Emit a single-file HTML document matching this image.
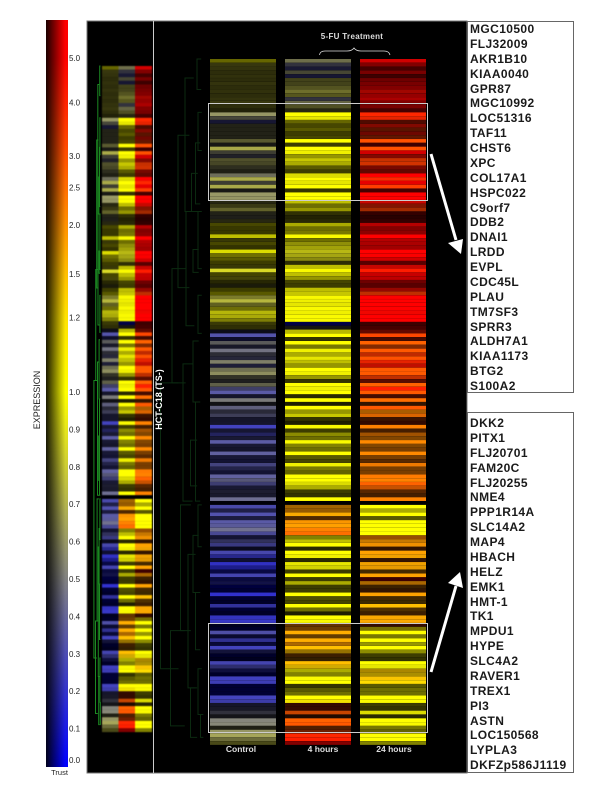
<!DOCTYPE html>
<html lang="en">
<head>
<meta charset="utf-8">
<title>HCT-C18 5-FU expression heatmap</title>
<style>
html,body{margin:0;padding:0;background:#fff;}
#page{position:relative;width:600px;height:800px;overflow:hidden;background:#fff;font-family:"Liberation Sans",sans-serif;}
#chart{position:absolute;left:0;top:0;}
.gene-box{position:absolute;box-sizing:border-box;left:467px;width:107px;background:#fff;border:1px solid #666;}
.gene{position:absolute;left:2px;font-weight:bold;font-size:12px;line-height:14px;letter-spacing:.4px;color:#1a1a1a;white-space:nowrap;}
</style>
</head>
<body>
<div id="page">
<svg id="chart" width="600" height="800" viewBox="0 0 600 800" xmlns="http://www.w3.org/2000/svg">
  <defs>
    <linearGradient id="legendColors" x1="0" y1="20" x2="0" y2="767" gradientUnits="userSpaceOnUse"></linearGradient>
    <linearGradient id="legendTrust" x1="0" y1="0" x2="1" y2="0">
      <stop offset="0" stop-color="#000" stop-opacity=".9"/>
      <stop offset=".88" stop-color="#000" stop-opacity="0"/>
    </linearGradient>
    <filter id="softMain" color-interpolation-filters="sRGB"><feGaussianBlur stdDeviation="0.25 0.35"/></filter>
    <filter id="softSide" color-interpolation-filters="sRGB"><feGaussianBlur stdDeviation="0.4 0.55"/></filter>
  </defs>
  <rect x="87" y="21" width="380" height="752" fill="#000" stroke="#777" stroke-width="1"/>
  <line x1="153.5" y1="21" x2="153.5" y2="773" stroke="#ccc" stroke-width="1"/>
  <rect x="46" y="20" width="22" height="747" fill="url(#legendColors)"/>
  <rect x="46" y="20" width="22" height="747" fill="url(#legendTrust)"/>
  <g id="legendTicks"></g>
  <text transform="translate(40,400) rotate(-90)" text-anchor="middle" font-size="9" fill="#222" font-family="Liberation Sans, sans-serif">EXPRESSION</text>
  <text x="59.5" y="775" text-anchor="middle" font-size="7.5" fill="#222" font-family="Liberation Sans, sans-serif">Trust</text>
  <g id="sideTree"></g>
  <g id="mainTree"></g>
  <g id="sideMap" filter="url(#softSide)"></g>
  <g id="mainMap" filter="url(#softMain)"></g>
  <text transform="translate(162,399.500) rotate(-90)" text-anchor="middle" font-size="9" font-weight="bold" fill="#fff" font-family="Liberation Sans, sans-serif">HCT-C18  (TS-)</text>
  <text x="352" y="39" text-anchor="middle" font-size="8" font-weight="bold" letter-spacing=".3" fill="#ddd" font-family="Liberation Sans, sans-serif">5-FU Treatment</text>
  <path d="M319.500 55 Q320 51 325 51 L347 51 Q352 51 354 48 Q356 51 361 51 L384 51 Q389 51 390 55" fill="none" stroke="#ddd" stroke-width=".8"/>
  <text x="241" y="752" text-anchor="middle" font-size="8.5" font-weight="bold" fill="#ddd" font-family="Liberation Sans, sans-serif">Control</text>
  <text x="323" y="752" text-anchor="middle" font-size="8.5" font-weight="bold" fill="#ddd" font-family="Liberation Sans, sans-serif">4 hours</text>
  <text x="394" y="752" text-anchor="middle" font-size="8.5" font-weight="bold" fill="#ddd" font-family="Liberation Sans, sans-serif">24 hours</text>
  <rect x="208.500" y="103.500" width="219" height="97" fill="none" stroke="#ccc" stroke-width="1"/>
  <rect x="208.500" y="623.500" width="219" height="109" fill="none" stroke="#ccc" stroke-width="1"/>
  <g>
    <line x1="431" y1="154" x2="456" y2="240" stroke="#fff" stroke-width="3"/>
    <polygon points="461,254 448,243 463,239" fill="#fff"/>
  </g>
  <g>
    <line x1="431" y1="672" x2="456" y2="586" stroke="#fff" stroke-width="3"/>
    <polygon points="460,572 448,583 463,588" fill="#fff"/>
  </g>
</svg>

<div class="gene-box" style="top:21px;height:372px;">
  <div class="gene" style="top:0px">MGC10500</div>
  <div class="gene" style="top:14.9px">FLJ32009</div>
  <div class="gene" style="top:29.8px">AKR1B10</div>
  <div class="gene" style="top:44.6px">KIAA0040</div>
  <div class="gene" style="top:59.5px">GPR87</div>
  <div class="gene" style="top:74.4px">MGC10992</div>
  <div class="gene" style="top:89.3px">LOC51316</div>
  <div class="gene" style="top:104.1px">TAF11</div>
  <div class="gene" style="top:119px">CHST6</div>
  <div class="gene" style="top:133.9px">XPC</div>
  <div class="gene" style="top:148.8px">COL17A1</div>
  <div class="gene" style="top:163.6px">HSPC022</div>
  <div class="gene" style="top:178.5px">C9orf7</div>
  <div class="gene" style="top:193.4px">DDB2</div>
  <div class="gene" style="top:208.3px">DNAI1</div>
  <div class="gene" style="top:223.1px">LRDD</div>
  <div class="gene" style="top:238px">EVPL</div>
  <div class="gene" style="top:252.9px">CDC45L</div>
  <div class="gene" style="top:267.8px">PLAU</div>
  <div class="gene" style="top:282.6px">TM7SF3</div>
  <div class="gene" style="top:297.5px">SPRR3</div>
  <div class="gene" style="top:312.4px">ALDH7A1</div>
  <div class="gene" style="top:327.3px">KIAA1173</div>
  <div class="gene" style="top:342.1px">BTG2</div>
  <div class="gene" style="top:357px">S100A2</div>
</div>

<div class="gene-box" style="top:412px;height:361px;">
  <div class="gene" style="top:3px">DKK2</div>
  <div class="gene" style="top:17.9px">PITX1</div>
  <div class="gene" style="top:32.8px">FLJ20701</div>
  <div class="gene" style="top:47.6px">FAM20C</div>
  <div class="gene" style="top:62.5px">FLJ20255</div>
  <div class="gene" style="top:77.4px">NME4</div>
  <div class="gene" style="top:92.3px">PPP1R14A</div>
  <div class="gene" style="top:107.1px">SLC14A2</div>
  <div class="gene" style="top:122px">MAP4</div>
  <div class="gene" style="top:136.9px">HBACH</div>
  <div class="gene" style="top:151.8px">HELZ</div>
  <div class="gene" style="top:166.6px">EMK1</div>
  <div class="gene" style="top:181.5px">HMT-1</div>
  <div class="gene" style="top:196.4px">TK1</div>
  <div class="gene" style="top:211.3px">MPDU1</div>
  <div class="gene" style="top:226.1px">HYPE</div>
  <div class="gene" style="top:241px">SLC4A2</div>
  <div class="gene" style="top:255.9px">RAVER1</div>
  <div class="gene" style="top:270.8px">TREX1</div>
  <div class="gene" style="top:285.6px">PI3</div>
  <div class="gene" style="top:300.5px">ASTN</div>
  <div class="gene" style="top:315.4px">LOC150568</div>
  <div class="gene" style="top:330.3px">LYPLA3</div>
  <div class="gene" style="top:345.1px">DKFZp586J1119</div>
</div>
</div>

<script>
var controlExpr = [
1,.8,.8,.8,.8,.8,.8,.8,.8,.8,
.8,.8,.8,.8,.6,.55,.3,.6,.6,.6,
.6,.65,.55,.7,.55,.45,.65,.65,.6,.6,
.55,.7,.55,.7,.55,.6,.6,.7,.75,.7,
.6,.55,.7,1,1,1,1,.9,1,1,
1,1,1,1,.9,.85,1,.9,.9,.75,
1,1,.75,.75,.75,.95,.95,.95,.95,.9,
.9,.35,.33,.25,.5,.38,.47,.45,.4,.55,
.35,.58,.6,.56,.5,.57,.38,.35,.33,.5,
.45,.43,.42,.41,.33,.33,.26,.3,.27,.33,
.36,.33,.33,.38,.31,.28,.35,.33,.28,.38,
.42,.35,.33,.38,.36,.43,0,.3,.3,.32,
.3,.35,.37,.44,.33,.28,.35,.31,.25,.29,
.22,.23,.2,.17,.12,.28,.14,.2,0,0,
.19,0,0,.24,0,0,.21,.22,0,0,
.32,.17,.25,.14,.26,.25,0,0,.28,.29,
.2,0,.25,.25,0,0,0,.26,.26,.33,
.38,.45,.45,.52,.53,.6,.6,.65,.65,.75];
var controlTrust = [
40,27,25,22,24,22,25,22,24,22,
25,27,22,16,98,50,28,22,22,22,
22,54,18,95,43,28,48,42,30,20,
78,95,43,95,18,100,98,22,30,55,
22,22,22,28,22,22,75,25,28,20,
86,43,35,24,25,100,27,30,17,14,
24,35,65,95,50,45,75,70,52,25,
20,15,100,22,70,25,95,38,38,90,
33,75,92,35,24,65,65,100,25,95,
15,85,38,58,25,25,100,28,50,30,
100,30,25,100,30,27,75,42,27,100,
80,68,30,30,27,100,4,95,40,100,
35,100,95,100,85,27,55,72,15,95,
70,25,95,65,30,95,28,35,24,20,
100,20,16,80,20,16,95,100,12,16,
95,22,75,25,100,30,16,12,95,60,
30,16,100,95,20,20,20,100,90,25,
25,42,17,100,100,20,98,100,65,38];
var hour4Expr = [
.6,.45,.33,.58,.3,.72,.72,.72,.72,.75,
.45,.6,.7,.7,1,1,1,1,1,1,
1,1,1,1,1,1,1,1,1,1,
1,1,1,1,1,1,1,1,1,1,
.95,.95,.9,1,1,1,1,1,.95,.95,
.9,.9,.9,.9,1,1,1,1,1,1,
1,1,1,1,1,1,1,1,1,0,
.55,1,1,1,1,1,1,1,1,1,
1,1,1,1,1,1,1,1,1,1,
1,1,1,1,1,1,1,1,1,1,
1,1,1,1,1,1,1,1,1,1,
1,1,1,1,1,1,0,1.84,1.9,1.67,
2.2,1.9,1.82,2.2,2.5,1,1,1,1,1,
1,1,1,1,1,1,1,1,1,1,
1,1,1,1,1,1,1,1,2.2,2,
1.67,1.9,1.67,1.9,1.5,1.5,2.2,1.9,1.5,1.35,
1,1,1,1,1,1,1,1,1.1,3.6,
3.6,2.85,3,2.7,2.85,2.7,3.2,3.9,4.1,5];
var hour4Trust = [
72,43,30,47,28,36,36,45,60,45,
43,65,45,22,100,90,40,28,35,24,
28,100,24,100,94,59,78,67,35,24,
86,100,90,100,20,100,100,75,43,59,
20,14,18,67,43,47,98,43,59,67,
80,72,60,20,75,98,75,59,27,24,
75,78,98,94,90,98,94,98,98,27,
14,72,100,20,100,47,94,67,90,75,
59,100,94,59,20,100,94,100,16,100,
12,100,59,78,20,12,98,24,55,43,
98,51,43,100,35,27,94,47,39,100,
100,86,67,24,20,100,0,63,59,98,
31,98,100,100,100,51,75,100,16,100,
94,16,90,82,24,100,24,67,24,24,
100,31,27,100,43,12,100,98,39,43,
100,39,100,67,100,59,24,20,100,82,
67,51,98,100,20,35,43,100,94,20,
20,78,12,100,100,31,43,100,100,51];
var hour24Expr = [
5,5,5,5,5,5,5,5,4.7,5,
5,5,5,5,3.9,3.9,4,4.5,3.5,4.5,
3.5,3,5,3,5,4.5,3.4,3.4,4.5,4.5,
5,3.9,5,3.4,5,5,5,4.7,3.9,3.3,
5,5,5,5,5,5,5,5,5,5,
5,5,5,5,4.8,4.2,5,5,5,5,
4.7,3.4,5,5,5,5,4.8,5,5,5,
5,4.3,3.2,4,2.7,3,2.85,3.5,3,3.9,
4.4,2.85,2.85,3.4,4,2.7,4.1,2.85,3.8,2.5,
2.7,2.85,2.1,2.4,3,3.7,2.2,2.5,2.2,2.1,
2.1,2.1,2.2,2.1,2.2,2.4,2.2,2.2,2.2,2.3,
2.2,2.7,2.6,2.5,2.5,2.2,0,1,1,1,
1,1,1,1,1,2.2,1.9,1.9,2.7,1.8,
1.7,2.7,1.7,1.7,1.9,1.8,5,1.9,2.1,2.7,
1.8,1.9,1.7,1.5,1.9,2.2,1.7,1.7,3.6,1.1,
1,1,1,1,1,1,1,1,1,1,
1.4,1.3,1.4,1.25,1,1,1,1,1,1,
1,1,1,1,1,1,1,1,1,1];
var hour24Trust = [
82,51,27,47,24,43,47,51,63,59,
67,51,47,27,100,90,31,51,35,43,
39,100,24,100,82,51,78,82,47,39,
100,100,90,100,27,100,100,78,51,63,
20,16,20,71,51,55,100,71,67,63,
100,98,82,35,78,100,78,75,43,35,
59,75,100,100,100,100,94,100,100,24,
27,39,100,27,100,51,100,75,100,90,
75,100,100,75,35,100,100,100,27,100,
20,100,67,86,24,20,100,27,63,51,
100,51,47,100,47,35,94,47,47,100,
100,100,78,35,27,100,0,100,67,100,
35,100,100,100,100,59,78,94,20,100,
94,20,94,90,27,100,24,67,24,20,
100,27,24,100,31,24,98,98,20,47,
100,47,100,59,100,55,24,20,100,90,
67,67,98,100,35,43,43,100,98,24,
20,86,16,100,98,47,39,100,100,51];
var legendTickValues = [5,4,3,2.5,2,1.5,1.2,1,.9,.8,.7,.6,.5,.4,.3,.2,.1,0];
var legendTickLabels = ["5.0","4.0","3.0","2.5","2.0","1.5","1.2","1.0","0.9","0.8","0.7","0.6","0.5","0.4","0.3","0.2","0.1","0.0"];
var mergeStart = [0,5,14,22,30,40,50,62,40,20,55,74,90,100,80,117,125,140,117,130,160,172,165,150,85];
var mergeEnd = [8,40,24,38,40,55,56,72,70,60,85,90,116,112,116,128,140,155,150,165,172,178,178,175,160];
var mergeDepth = [.22,.46,.2,.25,.33,.2,.3,.2,.44,.6,.72,.3,.25,.35,.5,.2,.3,.25,.55,.4,.2,.15,.35,.75,.95];

var SVG_NS = "http://www.w3.org/2000/svg";
var ROW_COUNT = controlExpr.length;

function expressionColor(v) {
  var r, g, b;
  if (v >= 1) {
    r = 255;
    g = 255 * (1 - Math.log(Math.min(v, 5)) / Math.log(5));
    b = 0;
  } else if (v >= .5) {
    r = g = 128 + (v - .5) * 254;
    b = 128 - (v - .5) * 256;
  } else {
    r = g = v * 256;
    b = 255 - v * 254;
  }
  return [r, g, b];
}
function trustColor(v, trust) {
  var c = expressionColor(v);
  var k = trust / 100;
  return "rgb(" + Math.round(c[0] * k) + "," + Math.round(c[1] * k) + "," + Math.round(c[2] * k) + ")";
}
function legendY(v) {
  if (v >= 1) return 392 - 334 * Math.sqrt((v - 1) / 4);
  return 392 + (1 - v) * 374;
}
function mainRowY(i) { return 59 + i * 3.811; }
function sideRowY(i) { return 66 + i * 3.7; }
function mainTreeX(d) { return 208 - d * 50; }
function sideTreeX(d) { return 101.500 - d * 8; }

var legendGradient = document.getElementById("legendColors");
[5].concat(legendTickValues).forEach(function (v, idx) {
  var stop = document.createElementNS(SVG_NS, "stop");
  var y = idx === 0 ? 20 : Math.min(legendY(v), 767);
  if (v === 0) y = 767;
  stop.setAttribute("offset", ((y - 20) / 747).toFixed(4));
  stop.setAttribute("stop-color", trustColor(v, 100));
  legendGradient.appendChild(stop);
});

var tickGroup = document.getElementById("legendTicks");
legendTickValues.forEach(function (v, idx) {
  var t = document.createElementNS(SVG_NS, "text");
  
  
  t.setAttribute("x", 69);
  t.setAttribute("y", Math.min(legendY(v), 760) + 3);
  t.setAttribute("font-size", "8");
  t.setAttribute("fill", "#222");
  t.setAttribute("font-family", "Liberation Sans, sans-serif");
  t.textContent = legendTickLabels[idx];
  tickGroup.appendChild(t);
});

function drawHeatColumn(group, name, expr, trust, x, w, rowY, rowH) {
  for (var i = 0; i < ROW_COUNT; i++) {
    var r = document.createElementNS(SVG_NS, "rect");
    
    
    r.setAttribute("x", x);
    r.setAttribute("y", rowY(i).toFixed(2));
    r.setAttribute("width", w);
    r.setAttribute("height", rowH);
    r.setAttribute("fill", trustColor(expr[i], trust[i]));
    group.appendChild(r);
  }
}
var mainMap = document.getElementById("mainMap");
drawHeatColumn(mainMap, "control-cell", controlExpr, controlTrust, 210, 66, mainRowY, 3.7);
drawHeatColumn(mainMap, "4-hours-cell", hour4Expr, hour4Trust, 285, 66, mainRowY, 3.7);
drawHeatColumn(mainMap, "24-hours-cell", hour24Expr, hour24Trust, 360, 66, mainRowY, 3.7);
var sideMap = document.getElementById("sideMap");
drawHeatColumn(sideMap, "overview-control-cell", controlExpr, controlTrust, 102, 16.500, sideRowY, 3.8);
drawHeatColumn(sideMap, "overview-4-hours-cell", hour4Expr, hour4Trust, 118.500, 16.500, sideRowY, 3.8);
drawHeatColumn(sideMap, "overview-24-hours-cell", hour24Expr, hour24Trust, 135, 17, sideRowY, 3.8);

function drawTree(group, name, rowY, treeX, colour, widthPx) {
  for (var i = 0; i < mergeStart.length; i++) {
    var p = document.createElementNS(SVG_NS, "polyline");
    var x = treeX(mergeDepth[i]);
    var childX = treeX(mergeDepth[i] * .62);
    var y0 = rowY(mergeStart[i]);
    var y1 = rowY(mergeEnd[i]);
    
    
    p.setAttribute("points", childX + "," + y0 + " " + x + "," + y0 + " " + x + "," + y1 + " " + childX + "," + y1);
    p.setAttribute("fill", "none");
    p.setAttribute("stroke", colour);
    p.setAttribute("stroke-width", widthPx);
    group.appendChild(p);
  }
}
drawTree(document.getElementById("mainTree"), "main-tree-branch", mainRowY, mainTreeX, "#0b2a10", 1);
drawTree(document.getElementById("sideTree"), "overview-tree-branch", sideRowY, sideTreeX, "#1c8a22", 1);
</script>
</body>
</html>
